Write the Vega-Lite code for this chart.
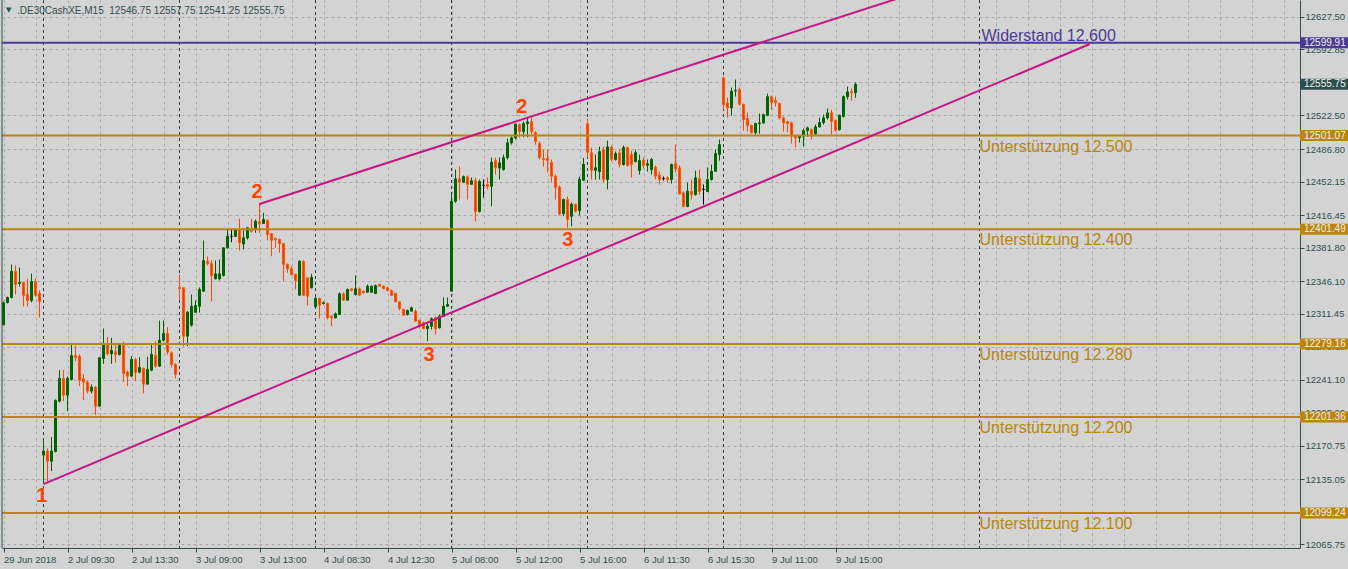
{
"$schema": "https://vega.github.io/schema/vega-lite/v6.json",
"width": 1298, "height": 548,
"autosize": {"type": "none"},
"padding": {"left": 2, "top": 0, "right": 48, "bottom": 21},
"background": "#D3D3D3",
"config": {"view": {"stroke": null}, "font": "Liberation Sans"},
"resolve": {"axis": {"x": "independent", "y": "independent"}},
"datasets": {
"candles": [
{"i":0,"o":12299.9,"h":12324.4,"l":12298.9,"c":12323.0},
{"i":1,"o":12323.4,"h":12329.7,"l":12322.3,"c":12328.7},
{"i":2,"o":12328.7,"h":12363.8,"l":12327.6,"c":12356.4},
{"i":3,"o":12356.4,"h":12362.8,"l":12331.9,"c":12342.5},
{"i":4,"o":12343.6,"h":12360.6,"l":12340.4,"c":12344.6},
{"i":5,"o":12344.6,"h":12345.7,"l":12319.1,"c":12330.8},
{"i":6,"o":12331.9,"h":12348.9,"l":12319.1,"c":12325.5},
{"i":7,"o":12325.5,"h":12354.2,"l":12323.4,"c":12345.7},
{"i":8,"o":12345.7,"h":12348.9,"l":12329.7,"c":12330.8},
{"i":9,"o":12332.9,"h":12336.1,"l":12307.4,"c":12324.4},
{"i":10,"o":12160.8,"h":12177.5,"l":12131.8,"c":12165.1},
{"i":11,"o":12165.1,"h":12167.9,"l":12133.1,"c":12154.4},
{"i":12,"o":12154.4,"h":12180.0,"l":12143.8,"c":12165.1},
{"i":13,"o":12164.8,"h":12220.1,"l":12163.7,"c":12219.0},
{"i":14,"o":12218.3,"h":12251.3,"l":12216.9,"c":12242.5},
{"i":15,"o":12242.5,"h":12251.3,"l":12218.3,"c":12224.7},
{"i":16,"o":12224.7,"h":12244.6,"l":12207.6,"c":12242.5},
{"i":17,"o":12241.4,"h":12278.7,"l":12240.3,"c":12266.9},
{"i":18,"o":12266.9,"h":12277.6,"l":12260.9,"c":12264.8},
{"i":19,"o":12266.2,"h":12268.0,"l":12234.3,"c":12240.6},
{"i":20,"o":12242.1,"h":12246.7,"l":12219.3,"c":12238.5},
{"i":21,"o":12238.5,"h":12240.3,"l":12226.5,"c":12228.9},
{"i":22,"o":12228.9,"h":12236.1,"l":12226.5,"c":12233.2},
{"i":23,"o":12233.2,"h":12234.3,"l":12203.4,"c":12213.0},
{"i":24,"o":12213.0,"h":12265.5,"l":12212.6,"c":12264.5},
{"i":25,"o":12263.7,"h":12295.7,"l":12258.1,"c":12278.7},
{"i":26,"o":12278.7,"h":12286.8,"l":12266.9,"c":12268.7},
{"i":27,"o":12268.7,"h":12285.8,"l":12258.1,"c":12272.3},
{"i":28,"o":12270.9,"h":12278.7,"l":12259.2,"c":12268.0},
{"i":29,"o":12268.0,"h":12278.7,"l":12266.9,"c":12277.6},
{"i":30,"o":12277.6,"h":12281.5,"l":12238.9,"c":12247.8},
{"i":31,"o":12249.2,"h":12251.0,"l":12234.3,"c":12244.9},
{"i":32,"o":12244.9,"h":12266.2,"l":12244.6,"c":12262.7},
{"i":33,"o":12262.7,"h":12264.5,"l":12239.6,"c":12248.5},
{"i":34,"o":12249.2,"h":12265.1,"l":12247.8,"c":12254.2},
{"i":35,"o":12253.1,"h":12254.2,"l":12226.5,"c":12236.4},
{"i":36,"o":12236.4,"h":12265.5,"l":12236.1,"c":12252.0},
{"i":37,"o":12251.3,"h":12278.7,"l":12250.2,"c":12268.0},
{"i":38,"o":12266.9,"h":12282.2,"l":12254.2,"c":12255.5},
{"i":39,"o":12255.5,"h":12304.2,"l":12255.2,"c":12283.2},
{"i":40,"o":12283.2,"h":12304.2,"l":12281.8,"c":12290.4},
{"i":41,"o":12290.4,"h":12297.1,"l":12268.0,"c":12270.5},
{"i":42,"o":12269.8,"h":12271.2,"l":12254.2,"c":12257.4},
{"i":43,"o":12257.4,"h":12258.4,"l":12242.5,"c":12246.7},
{"i":44,"o":12339.3,"h":12353.2,"l":12326.6,"c":12338.3},
{"i":45,"o":12339.0,"h":12339.3,"l":12276.8,"c":12287.5},
{"i":46,"o":12287.5,"h":12314.1,"l":12276.8,"c":12313.0},
{"i":47,"o":12299.2,"h":12331.9,"l":12297.8,"c":12319.4},
{"i":48,"o":12313.0,"h":12325.5,"l":12312.7,"c":12320.2},
{"i":49,"o":12319.4,"h":12339.3,"l":12312.7,"c":12337.2},
{"i":50,"o":12335.4,"h":12389.4,"l":12335.1,"c":12368.1},
{"i":51,"o":12367.3,"h":12372.3,"l":12362.8,"c":12364.9},
{"i":52,"o":12364.9,"h":12368.4,"l":12324.7,"c":12352.1},
{"i":53,"o":12348.6,"h":12368.1,"l":12347.9,"c":12353.9},
{"i":54,"o":12348.6,"h":12369.1,"l":12346.8,"c":12353.9},
{"i":55,"o":12352.1,"h":12381.9,"l":12351.0,"c":12381.6},
{"i":56,"o":12381.6,"h":12401.1,"l":12380.8,"c":12393.9},
{"i":57,"o":12393.9,"h":12401.1,"l":12387.5,"c":12393.9},
{"i":58,"o":12393.9,"h":12402.1,"l":12393.6,"c":12401.1},
{"i":59,"o":12401.1,"h":12412.5,"l":12378.7,"c":12386.9},
{"i":60,"o":12385.8,"h":12401.8,"l":12379.8,"c":12392.2},
{"i":61,"o":12392.2,"h":12403.2,"l":12390.4,"c":12402.9},
{"i":62,"o":12401.1,"h":12412.5,"l":12397.9,"c":12399.3},
{"i":63,"o":12401.1,"h":12411.7,"l":12397.6,"c":12409.9},
{"i":64,"o":12409.3,"h":12429.5,"l":12397.6,"c":12407.1},
{"i":65,"o":12407.5,"h":12418.8,"l":12407.1,"c":12411.7},
{"i":66,"o":12410.9,"h":12411.7,"l":12389.7,"c":12395.7},
{"i":67,"o":12396.8,"h":12396.8,"l":12372.6,"c":12389.7},
{"i":68,"o":12391.5,"h":12392.5,"l":12381.6,"c":12390.4},
{"i":69,"o":12390.4,"h":12391.5,"l":12376.3,"c":12385.8},
{"i":70,"o":12386.2,"h":12386.2,"l":12346.0,"c":12363.8},
{"i":71,"o":12363.8,"h":12364.9,"l":12355.0,"c":12359.2},
{"i":72,"o":12359.2,"h":12362.0,"l":12352.1,"c":12353.2},
{"i":73,"o":12353.2,"h":12354.2,"l":12337.2,"c":12346.8},
{"i":74,"o":12331.1,"h":12368.1,"l":12330.8,"c":12367.3},
{"i":75,"o":12367.3,"h":12368.1,"l":12330.1,"c":12331.1},
{"i":76,"o":12349.6,"h":12350.0,"l":12320.5,"c":12330.1},
{"i":77,"o":12339.0,"h":12353.9,"l":12338.3,"c":12350.3},
{"i":78,"o":12318.8,"h":12330.8,"l":12318.0,"c":12327.6},
{"i":79,"o":12327.6,"h":12328.7,"l":12306.3,"c":12320.5},
{"i":80,"o":12322.3,"h":12324.4,"l":12321.2,"c":12323.0},
{"i":81,"o":12322.3,"h":12323.4,"l":12305.3,"c":12307.1},
{"i":82,"o":12308.8,"h":12309.5,"l":12298.1,"c":12307.1},
{"i":83,"o":12307.1,"h":12312.7,"l":12306.3,"c":12311.3},
{"i":84,"o":12310.6,"h":12334.0,"l":12310.6,"c":12332.6},
{"i":85,"o":12332.6,"h":12334.0,"l":12325.5,"c":12325.8},
{"i":86,"o":12325.8,"h":12338.3,"l":12325.5,"c":12337.2},
{"i":87,"o":12337.9,"h":12338.3,"l":12335.1,"c":12336.1},
{"i":88,"o":12331.9,"h":12352.1,"l":12330.8,"c":12337.9},
{"i":89,"o":12337.9,"h":12339.3,"l":12330.8,"c":12331.1},
{"i":90,"o":12335.4,"h":12336.1,"l":12332.9,"c":12333.7},
{"i":91,"o":12334.3,"h":12342.5,"l":12334.0,"c":12340.7},
{"i":92,"o":12334.3,"h":12341.4,"l":12334.0,"c":12340.7},
{"i":93,"o":12332.9,"h":12342.5,"l":12332.9,"c":12341.4},
{"i":94,"o":12342.5,"h":12343.6,"l":12340.4,"c":12340.7},
{"i":95,"o":12340.7,"h":12341.4,"l":12337.2,"c":12338.3},
{"i":96,"o":12339.0,"h":12340.4,"l":12335.1,"c":12336.1},
{"i":97,"o":12336.1,"h":12337.2,"l":12330.8,"c":12331.1},
{"i":98,"o":12332.9,"h":12334.0,"l":12323.4,"c":12324.1},
{"i":99,"o":12324.1,"h":12324.4,"l":12314.8,"c":12317.0},
{"i":100,"o":12315.9,"h":12317.0,"l":12309.5,"c":12309.8},
{"i":101,"o":12310.6,"h":12315.9,"l":12309.5,"c":12314.8},
{"i":102,"o":12314.1,"h":12319.1,"l":12313.8,"c":12317.7},
{"i":103,"o":12314.1,"h":12315.9,"l":12303.1,"c":12303.5},
{"i":104,"o":12304.2,"h":12305.3,"l":12295.7,"c":12298.1},
{"i":105,"o":12301.8,"h":12303.1,"l":12294.6,"c":12295.4},
{"i":106,"o":12295.4,"h":12300.8,"l":12282.2,"c":12298.1},
{"i":107,"o":12298.1,"h":12307.4,"l":12294.6,"c":12306.0},
{"i":108,"o":12307.1,"h":12308.4,"l":12289.3,"c":12295.4},
{"i":109,"o":12296.4,"h":12310.6,"l":12295.7,"c":12308.8},
{"i":110,"o":12308.8,"h":12328.7,"l":12308.4,"c":12319.4},
{"i":111,"o":12319.4,"h":12328.7,"l":12319.1,"c":12321.2},
{"i":112,"o":12335.4,"h":12440.1,"l":12335.1,"c":12431.2},
{"i":113,"o":12431.2,"h":12464.9,"l":12429.5,"c":12455.0},
{"i":114,"o":12455.0,"h":12468.4,"l":12433.0,"c":12451.4},
{"i":115,"o":12451.4,"h":12458.6,"l":12451.1,"c":12457.5},
{"i":116,"o":12457.2,"h":12458.6,"l":12433.0,"c":12449.0},
{"i":117,"o":12449.3,"h":12456.4,"l":12449.0,"c":12452.9},
{"i":118,"o":12453.2,"h":12456.4,"l":12409.9,"c":12420.2},
{"i":119,"o":12420.2,"h":12454.3,"l":12419.2,"c":12452.2},
{"i":120,"o":12448.2,"h":12454.3,"l":12435.1,"c":12448.2},
{"i":121,"o":12449.0,"h":12456.4,"l":12443.7,"c":12446.8},
{"i":122,"o":12447.1,"h":12477.7,"l":12425.9,"c":12472.7},
{"i":123,"o":12474.5,"h":12477.7,"l":12459.6,"c":12466.7},
{"i":124,"o":12466.7,"h":12477.7,"l":12454.3,"c":12472.1},
{"i":125,"o":12464.9,"h":12480.9,"l":12463.9,"c":12477.7},
{"i":126,"o":12477.7,"h":12497.9,"l":12475.6,"c":12493.4},
{"i":127,"o":12493.4,"h":12500.1,"l":12491.5,"c":12498.7},
{"i":128,"o":12498.7,"h":12513.9,"l":12496.9,"c":12513.2},
{"i":129,"o":12512.8,"h":12513.9,"l":12499.0,"c":12505.4},
{"i":130,"o":12505.4,"h":12516.0,"l":12499.3,"c":12513.9},
{"i":131,"o":12513.9,"h":12520.3,"l":12499.3,"c":12515.7},
{"i":132,"o":12516.0,"h":12520.3,"l":12502.2,"c":12505.4},
{"i":133,"o":12504.3,"h":12505.7,"l":12491.5,"c":12494.7},
{"i":134,"o":12492.6,"h":12494.7,"l":12475.6,"c":12477.7},
{"i":135,"o":12476.7,"h":12486.2,"l":12468.1,"c":12475.6},
{"i":136,"o":12476.7,"h":12486.2,"l":12461.7,"c":12474.5},
{"i":137,"o":12472.4,"h":12475.6,"l":12451.1,"c":12457.8},
{"i":138,"o":12457.8,"h":12459.6,"l":12433.0,"c":12446.1},
{"i":139,"o":12446.1,"h":12447.9,"l":12416.0,"c":12417.4},
{"i":140,"o":12418.1,"h":12434.1,"l":12415.2,"c":12433.0},
{"i":141,"o":12433.0,"h":12436.2,"l":12403.2,"c":12411.7},
{"i":142,"o":12415.2,"h":12429.8,"l":12404.6,"c":12428.0},
{"i":143,"o":12427.7,"h":12428.7,"l":12419.2,"c":12420.5},
{"i":144,"o":12421.3,"h":12457.5,"l":12416.0,"c":12454.6},
{"i":145,"o":12453.5,"h":12477.4,"l":12453.2,"c":12470.6},
{"i":146,"o":12513.6,"h":12518.9,"l":12477.7,"c":12483.4},
{"i":147,"o":12482.7,"h":12488.4,"l":12454.3,"c":12464.2},
{"i":148,"o":12464.2,"h":12480.9,"l":12454.3,"c":12466.7},
{"i":149,"o":12462.8,"h":12489.4,"l":12454.3,"c":12484.1},
{"i":150,"o":12486.2,"h":12489.4,"l":12451.1,"c":12454.3},
{"i":151,"o":12454.3,"h":12495.8,"l":12443.7,"c":12489.1},
{"i":152,"o":12488.7,"h":12490.5,"l":12473.5,"c":12475.6},
{"i":153,"o":12475.6,"h":12484.1,"l":12474.5,"c":12482.0},
{"i":154,"o":12482.7,"h":12487.0,"l":12467.1,"c":12470.3},
{"i":155,"o":12470.3,"h":12490.5,"l":12469.2,"c":12488.4},
{"i":156,"o":12488.4,"h":12489.4,"l":12468.1,"c":12469.2},
{"i":157,"o":12480.9,"h":12484.8,"l":12456.4,"c":12470.3},
{"i":158,"o":12473.5,"h":12486.2,"l":12472.4,"c":12483.0},
{"i":159,"o":12463.9,"h":12480.9,"l":12459.6,"c":12474.5},
{"i":160,"o":12474.8,"h":12477.7,"l":12466.0,"c":12469.2},
{"i":161,"o":12469.5,"h":12475.6,"l":12462.8,"c":12471.0},
{"i":162,"o":12464.9,"h":12477.4,"l":12459.6,"c":12475.6},
{"i":163,"o":12467.4,"h":12469.2,"l":12454.3,"c":12457.8},
{"i":164,"o":12458.9,"h":12462.8,"l":12449.0,"c":12454.3},
{"i":165,"o":12455.3,"h":12457.5,"l":12453.2,"c":12455.3},
{"i":166,"o":12456.1,"h":12457.5,"l":12451.1,"c":12454.3},
{"i":167,"o":12454.3,"h":12471.3,"l":12450.0,"c":12470.3},
{"i":168,"o":12471.3,"h":12491.5,"l":12461.7,"c":12465.7},
{"i":169,"o":12466.7,"h":12469.2,"l":12438.3,"c":12439.1},
{"i":170,"o":12440.1,"h":12441.5,"l":12425.2,"c":12425.5},
{"i":171,"o":12425.5,"h":12451.1,"l":12425.2,"c":12441.8},
{"i":172,"o":12441.8,"h":12454.3,"l":12433.0,"c":12438.3},
{"i":173,"o":12438.3,"h":12463.9,"l":12437.2,"c":12456.1},
{"i":174,"o":12455.3,"h":12464.9,"l":12438.3,"c":12441.5},
{"i":175,"o":12443.7,"h":12449.0,"l":12427.7,"c":12443.7},
{"i":176,"o":12441.5,"h":12467.1,"l":12441.5,"c":12454.3},
{"i":177,"o":12454.3,"h":12470.3,"l":12453.2,"c":12463.1},
{"i":178,"o":12463.1,"h":12486.2,"l":12462.8,"c":12482.0},
{"i":179,"o":12480.9,"h":12496.9,"l":12474.5,"c":12491.5},
{"i":180,"o":12562.5,"h":12563.9,"l":12528.8,"c":12534.1},
{"i":181,"o":12535.9,"h":12541.6,"l":12520.3,"c":12530.6},
{"i":182,"o":12530.6,"h":12552.2,"l":12522.4,"c":12548.3},
{"i":183,"o":12548.7,"h":12560.8,"l":12542.6,"c":12549.3},
{"i":184,"o":12550.1,"h":12552.2,"l":12533.1,"c":12534.4},
{"i":185,"o":12534.1,"h":12535.2,"l":12506.4,"c":12518.2},
{"i":186,"o":12519.2,"h":12525.6,"l":12505.4,"c":12511.8},
{"i":187,"o":12511.8,"h":12512.8,"l":12503.2,"c":12504.3},
{"i":188,"o":12504.3,"h":12515.0,"l":12502.2,"c":12513.9},
{"i":189,"o":12513.6,"h":12524.5,"l":12503.2,"c":12514.6},
{"i":190,"o":12514.6,"h":12524.5,"l":12513.9,"c":12523.5},
{"i":191,"o":12522.7,"h":12545.8,"l":12521.7,"c":12542.6},
{"i":192,"o":12542.3,"h":12543.7,"l":12528.8,"c":12536.3},
{"i":193,"o":12538.4,"h":12542.6,"l":12532.0,"c":12536.3},
{"i":194,"o":12535.2,"h":12536.3,"l":12518.2,"c":12520.0},
{"i":195,"o":12520.0,"h":12521.4,"l":12505.4,"c":12514.6},
{"i":196,"o":12516.0,"h":12517.1,"l":12504.3,"c":12513.9},
{"i":197,"o":12514.6,"h":12516.0,"l":12492.6,"c":12500.4},
{"i":198,"o":12501.1,"h":12501.1,"l":12488.4,"c":12498.7},
{"i":199,"o":12498.7,"h":12501.1,"l":12493.7,"c":12500.1},
{"i":200,"o":12500.4,"h":12508.6,"l":12489.4,"c":12506.4},
{"i":201,"o":12506.4,"h":12510.7,"l":12500.1,"c":12509.3},
{"i":202,"o":12507.5,"h":12508.6,"l":12496.9,"c":12502.5},
{"i":203,"o":12502.9,"h":12512.8,"l":12502.2,"c":12510.4},
{"i":204,"o":12510.4,"h":12520.3,"l":12509.6,"c":12515.0},
{"i":205,"o":12515.0,"h":12523.5,"l":12512.8,"c":12520.0},
{"i":206,"o":12520.0,"h":12529.9,"l":12518.2,"c":12525.3},
{"i":207,"o":12525.3,"h":12528.8,"l":12502.2,"c":12516.0},
{"i":208,"o":12517.1,"h":12518.2,"l":12505.4,"c":12506.8},
{"i":209,"o":12507.5,"h":12523.5,"l":12506.4,"c":12522.7},
{"i":210,"o":12521.4,"h":12543.7,"l":12520.3,"c":12542.6},
{"i":211,"o":12542.6,"h":12553.3,"l":12539.5,"c":12547.6},
{"i":212,"o":12548.0,"h":12551.2,"l":12538.4,"c":12546.75},
{"i":213,"o":12546.75,"h":12557.75,"l":12541.25,"c":12555.75}
],
"seps": [{"i":10},{"i":44},{"i":78},{"i":112},{"i":146},{"i":180},{"i":244}],
"levels": [
{"p":12599.91,"k":"res"},{"p":12501.07,"k":"sup"},{"p":12401.49,"k":"sup"},
{"p":12279.16,"k":"sup"},{"p":12201.36,"k":"sup"},{"p":12099.24,"k":"sup"}
],
"boxes": [
{"p":12599.91,"k":"res"},{"p":12555.75,"k":"cur"},{"p":12501.07,"k":"sup"},{"p":12401.49,"k":"sup"},
{"p":12279.16,"k":"sup"},{"p":12201.36,"k":"sup"},{"p":12099.24,"k":"sup"}
],
"suptext": [
{"t":"Unterstützung 12.500","i":244,"p":12501.07,"k":"sup"},
{"t":"Unterstützung 12.400","i":244,"p":12401.49,"k":"sup"},
{"t":"Unterstützung 12.280","i":244,"p":12279.16,"k":"sup"},
{"t":"Unterstützung 12.200","i":244,"p":12201.36,"k":"sup"},
{"t":"Unterstützung 12.100","i":244,"p":12099.24,"k":"sup"}
],
"restext": [{"t":"Widerstand 12.600","i":244,"p":12599.91,"k":"res"}],
"trend": [
{"seg":"low","i":10,"p":12130.0},{"seg":"low","i":271.6,"p":12598.6},
{"seg":"up","i":64,"p":12428.2},{"seg":"up","i":230,"p":12655.9}
],
"nums": [
{"t":"1","i":9.6,"p":12117.3},{"t":"2","i":63.4,"p":12441.0},{"t":"2","i":129.6,"p":12531.5},
{"t":"3","i":106.4,"p":12267.4},{"t":"3","i":141.1,"p":12389.9}
],
"header": [{"t":".DE30CashXE,M15\u00a0\u00a012546.75 12557.75 12541.25 12555.75"}]
},
"layer": [
{
"data": {"name": "seps"},
"mark": {"type": "rule", "strokeDash": [3, 3], "strokeWidth": 1, "color": "#2F3F3F"},
"encoding": {
"x": {"field": "i", "type": "quantitative", "scale": {"domain": [-0.375, 324.125], "nice": false, "zero": false, "padding": 0},
"axis": {"orient": "bottom", "values": [0,8,16,24,32,40,48,56,64,72,80,88,96,104,112,120,128,136,144,152,160,168,176,184,192,200,208,216,224,232,240,248,256,264,272,280,288,296,304,312,320],
"grid": true, "gridColor": "#A9A9A9", "gridDash": [3, 3], "gridWidth": 1,
"domainColor": "#2F4F4F", "tickColor": "#2F4F4F", "tickSize": 4,
"tickOpacity": {"condition": {"test": "datum.value % 16 === 0 && datum.value <= 208", "value": 1}, "value": 0},
"labelExpr": "(datum.value % 16 === 0 && datum.value <= 208) ? ['29 Jun 2018','2 Jul 09:30','2 Jul 13:30','3 Jul 09:00','3 Jul 13:00','4 Jul 08:30','4 Jul 12:30','5 Jul 08:00','5 Jul 12:00','5 Jul 16:00','6 Jul 11:30','6 Jul 15:30','9 Jul 11:00','9 Jul 15:00'][datum.value / 16] : ''",
"labelAlign": "left", "labelBaseline": "top", "labelPadding": 2, "labelFont": "Liberation Sans", "labelFontSize": 9.5,
"labelColor": "#2F4F4F", "labelOverlap": false, "labelBound": false, "labelFlush": false, "title": null}}
}
},
{
"data": {"name": "candles"},
"mark": {"type": "rule", "strokeWidth": 1},
"encoding": {
"x": {"field": "i", "type": "quantitative", "scale": {"domain": [-0.375, 324.125], "nice": false, "zero": false, "padding": 0}, "axis": null},
"y": {"field": "l", "type": "quantitative", "scale": {"domain": [12061.9, 12645.5], "nice": false, "zero": false, "padding": 0},
"axis": {"orient": "right", "values": [12627.5,12592.85,12557.7,12522.5,12486.8,12452.15,12416.45,12381.8,12346.1,12311.45,12276.1,12241.1,12205.9,12170.75,12135.05,12100.4,12065.75],
"format": ".2f", "grid": true, "gridColor": "#A9A9A9", "gridDash": [3, 3], "gridWidth": 1,
"domainColor": "#2F4F4F", "tickColor": "#2F4F4F", "tickSize": 4, "labelPadding": 1,
"labelFont": "Liberation Sans", "labelFontSize": 9.5, "labelColor": "#2F4F4F", "labelAlign": "left", "labelBaseline": "middle",
"labelOverlap": false, "labelBound": false, "labelFlush": false, "title": null}},
"y2": {"field": "h"},
"color": {"condition": [{"test": "datum.c > datum.o", "value": "#006400"}, {"test": "datum.c < datum.o", "value": "#FF4500"}], "value": "#000000"}
}
},
{
"data": {"name": "candles"},
"mark": {"type": "bar", "size": 2, "strokeWidth": 1},
"encoding": {
"x": {"field": "i", "type": "quantitative", "scale": {"domain": [-0.375, 324.125], "nice": false, "zero": false, "padding": 0}, "axis": null},
"y": {"field": "o", "type": "quantitative", "scale": {"domain": [12061.9, 12645.5], "nice": false, "zero": false, "padding": 0}, "axis": null},
"y2": {"field": "c"},
"fill": {"condition": [{"test": "datum.c > datum.o", "value": "#006400"}, {"test": "datum.c < datum.o", "value": "#FF3300"}], "value": "#000000"},
"stroke": {"condition": [{"test": "datum.c > datum.o", "value": "#006400"}, {"test": "datum.c < datum.o", "value": "#FF5A00"}], "value": "#000000"}
}
},
{
"data": {"name": "levels"},
"mark": {"type": "rule", "strokeWidth": 2},
"encoding": {
"y": {"field": "p", "type": "quantitative", "scale": {"domain": [12061.9, 12645.5], "nice": false, "zero": false, "padding": 0}, "axis": null},
"color": {"field": "k", "type": "nominal", "scale": {"domain": ["res", "sup", "cur"], "range": ["#4B3A96", "#B8860B", "#2F4F4F"]}, "legend": null}
}
},
{
"data": {"name": "trend"},
"mark": {"type": "line", "clip": true, "strokeWidth": 2, "color": "#C71585"},
"encoding": {
"x": {"field": "i", "type": "quantitative", "scale": {"domain": [-0.375, 324.125], "nice": false, "zero": false, "padding": 0}, "axis": null},
"y": {"field": "p", "type": "quantitative", "scale": {"domain": [12061.9, 12645.5], "nice": false, "zero": false, "padding": 0}, "axis": null},
"detail": {"field": "seg", "type": "nominal"}
}
},
{
"data": {"name": "nums"},
"mark": {"type": "text", "font": "Liberation Sans", "fontWeight": "bold", "fontSize": 20, "color": "#FF4500", "align": "center", "baseline": "middle"},
"encoding": {
"x": {"field": "i", "type": "quantitative", "scale": {"domain": [-0.375, 324.125], "nice": false, "zero": false, "padding": 0}, "axis": null},
"y": {"field": "p", "type": "quantitative", "scale": {"domain": [12061.9, 12645.5], "nice": false, "zero": false, "padding": 0}, "axis": null},
"text": {"field": "t"}
}
},
{
"data": {"name": "suptext"},
"mark": {"type": "text", "font": "Liberation Sans", "fontSize": 16, "align": "left", "baseline": "top", "dx": 0, "dy": 3},
"encoding": {
"x": {"field": "i", "type": "quantitative", "scale": {"domain": [-0.375, 324.125], "nice": false, "zero": false, "padding": 0}, "axis": null},
"y": {"field": "p", "type": "quantitative", "scale": {"domain": [12061.9, 12645.5], "nice": false, "zero": false, "padding": 0}, "axis": null},
"text": {"field": "t"},
"color": {"field": "k", "type": "nominal", "scale": {"domain": ["res", "sup", "cur"], "range": ["#4B3A96", "#B8860B", "#2F4F4F"]}, "legend": null}
}
},
{
"data": {"name": "restext"},
"mark": {"type": "text", "font": "Liberation Sans", "fontSize": 16, "align": "left", "baseline": "alphabetic", "dx": 2, "dy": -2},
"encoding": {
"x": {"field": "i", "type": "quantitative", "scale": {"domain": [-0.375, 324.125], "nice": false, "zero": false, "padding": 0}, "axis": null},
"y": {"field": "p", "type": "quantitative", "scale": {"domain": [12061.9, 12645.5], "nice": false, "zero": false, "padding": 0}, "axis": null},
"text": {"field": "t"},
"color": {"field": "k", "type": "nominal", "scale": {"domain": ["res", "sup", "cur"], "range": ["#4B3A96", "#B8860B", "#2F4F4F"]}, "legend": null}
}
},
{
"data": {"values": [{}]},
"mark": {"type": "rule", "color": "#2F4F4F", "strokeWidth": 1},
"encoding": {
"x": {"datum": -0.375, "type": "quantitative", "scale": {"domain": [-0.375, 324.125], "nice": false, "zero": false, "padding": 0}, "axis": null}
}
},
{
"data": {"name": "boxes"},
"mark": {"type": "tick", "orient": "horizontal", "size": 48, "thickness": 11, "opacity": 1},
"encoding": {
"x": {"datum": 330.125, "type": "quantitative", "scale": {"domain": [-0.375, 324.125], "nice": false, "zero": false, "padding": 0}, "axis": null},
"y": {"field": "p", "type": "quantitative", "scale": {"domain": [12061.9, 12645.5], "nice": false, "zero": false, "padding": 0}, "axis": null},
"color": {"field": "k", "type": "nominal", "scale": {"domain": ["res", "sup", "cur"], "range": ["#4B3A96", "#B8860B", "#2F4F4F"]}, "legend": null}
}
},
{
"data": {"name": "boxes"},
"mark": {"type": "text", "font": "Liberation Sans", "fontSize": 10, "align": "left", "baseline": "middle", "dx": 4, "color": "#F0F0F0"},
"encoding": {
"x": {"datum": 324.125, "type": "quantitative", "scale": {"domain": [-0.375, 324.125], "nice": false, "zero": false, "padding": 0}, "axis": null},
"y": {"field": "p", "type": "quantitative", "scale": {"domain": [12061.9, 12645.5], "nice": false, "zero": false, "padding": 0}, "axis": null},
"text": {"field": "p", "type": "quantitative", "format": ".2f"}
}
},
{
"data": {"name": "header"},
"mark": {"type": "text", "font": "Liberation Sans", "fontSize": 10, "align": "left", "baseline": "middle", "dx": 15, "dy": 11, "color": "#2F4F4F"},
"encoding": {
"x": {"datum": -0.375, "type": "quantitative", "scale": {"domain": [-0.375, 324.125], "nice": false, "zero": false, "padding": 0}, "axis": null},
"y": {"datum": 12645.5, "type": "quantitative", "scale": {"domain": [12061.9, 12645.5], "nice": false, "zero": false, "padding": 0}, "axis": null},
"text": {"field": "t"}
}
},
{
"data": {"values": [{"t": "▼"}]},
"mark": {"type": "text", "font": "DejaVu Sans", "fontSize": 7, "align": "left", "baseline": "middle", "dx": 4, "dy": 10, "color": "#2F4F4F"},
"encoding": {
"x": {"datum": -0.375, "type": "quantitative", "scale": {"domain": [-0.375, 324.125], "nice": false, "zero": false, "padding": 0}, "axis": null},
"y": {"datum": 12645.5, "type": "quantitative", "scale": {"domain": [12061.9, 12645.5], "nice": false, "zero": false, "padding": 0}, "axis": null},
"text": {"field": "t"}
}
}
]
}
